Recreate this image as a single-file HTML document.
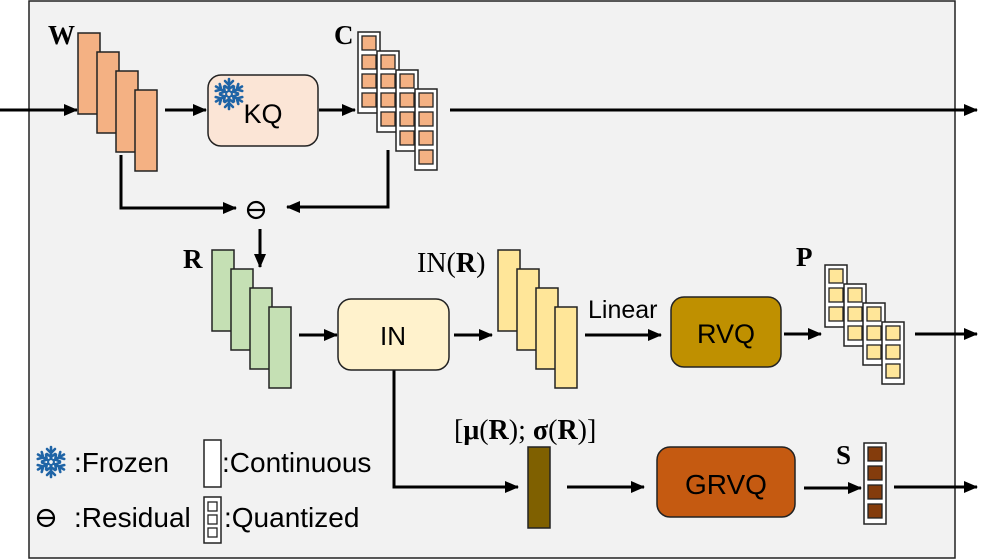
<!DOCTYPE html>
<html><head><meta charset="utf-8"><style>
html,body{margin:0;padding:0;background:#fff;}
svg{display:block;}
text{font-family:"Liberation Sans",sans-serif;}
.s{font-family:"Liberation Serif",serif;}
</style></head><body>
<svg width="987" height="560" viewBox="0 0 987 560" xmlns="http://www.w3.org/2000/svg">
<defs>
<marker id="a" markerWidth="14" markerHeight="12" refX="13" refY="6" orient="auto" markerUnits="userSpaceOnUse">
<path d="M0,0 L14,6 L0,12 Z" fill="#000"/>
</marker>
<g id="flake" stroke="#1f64a6" stroke-width="2.6" fill="none" stroke-linecap="round">
<g id="arm"><line x1="0" y1="-3" x2="0" y2="-15"/><polyline points="-4,-13 0,-9 4,-13"/><polyline points="-4,-8 0,-5 4,-8"/></g>
<use href="#arm" transform="rotate(60)"/><use href="#arm" transform="rotate(120)"/>
<use href="#arm" transform="rotate(180)"/><use href="#arm" transform="rotate(240)"/><use href="#arm" transform="rotate(300)"/>
<circle r="3" stroke-width="1.8"/>
</g>
</defs>
<rect x="29" y="1" width="926" height="557" fill="#f2f2f2" stroke="#222" stroke-width="1.5"/>
<g stroke="#000" stroke-width="3" fill="none" marker-end="url(#a)">
<line x1="0" y1="110" x2="77" y2="110"/>
<line x1="165" y1="110" x2="206" y2="110"/>
<line x1="319" y1="110" x2="355" y2="110"/>
<line x1="450" y1="110" x2="977" y2="110"/>
<polyline points="121,155 121,208 236,208"/>
<polyline points="388,150 388,207 287,207"/>
<line x1="260" y1="229" x2="260" y2="267"/>
<line x1="299" y1="335" x2="337" y2="335"/>
<line x1="454" y1="335" x2="492" y2="335"/>
<line x1="585" y1="335" x2="661" y2="335"/>
<line x1="784" y1="334" x2="821" y2="334"/>
<line x1="915" y1="334" x2="977" y2="334"/>
<polyline points="394,370 394,487 518,487"/>
<line x1="567" y1="487" x2="644" y2="487"/>
<line x1="804" y1="488" x2="861" y2="488"/>
<line x1="894" y1="487" x2="977" y2="487"/>
</g>
<g stroke="#222" stroke-width="1.5" fill="#f4b183">
<rect x="78" y="33" width="22" height="81"/><rect x="97" y="52" width="22" height="81"/>
<rect x="116" y="71" width="22" height="81"/><rect x="135" y="90" width="22" height="81"/>
</g>
<g stroke="#222" stroke-width="1.5" fill="#c5e0b4">
<rect x="212" y="250" width="22" height="81"/><rect x="231" y="269" width="22" height="81"/>
<rect x="250" y="288" width="22" height="81"/><rect x="269" y="307" width="22" height="81"/>
</g>
<g stroke="#222" stroke-width="1.5" fill="#ffe699">
<rect x="498" y="250" width="22" height="81"/><rect x="517" y="269" width="22" height="81"/>
<rect x="536" y="288" width="22" height="81"/><rect x="555" y="307" width="22" height="81"/>
</g>
<rect x="208" y="75" width="110" height="71" rx="13" fill="#fbe5d6" stroke="#222" stroke-width="1.5"/>
<text x="263" y="123" font-size="27" text-anchor="middle">KQ</text>
<use href="#flake" transform="translate(229,94)"/>
<rect x="338" y="299" width="111" height="71" rx="13" fill="#fff2cc" stroke="#222" stroke-width="1.5"/>
<text x="393" y="345" font-size="26" text-anchor="middle">IN</text>
<rect x="671" y="297" width="110" height="70" rx="13" fill="#bf9000" stroke="#222" stroke-width="1.5"/>
<text x="726" y="343" font-size="27" text-anchor="middle">RVQ</text>
<rect x="657" y="447" width="138" height="70" rx="13" fill="#c55a11" stroke="#222" stroke-width="1.5"/>
<text x="726" y="494" font-size="28" text-anchor="middle">GRVQ</text>
<rect x="528" y="447" width="22" height="81" fill="#7f6000" stroke="#222" stroke-width="1.5"/>
<circle cx="256" cy="210" r="8" fill="none" stroke="#000" stroke-width="2.2"/>
<line x1="248" y1="210" x2="264" y2="210" stroke="#000" stroke-width="2.2"/>
<g stroke="#222" stroke-width="1.5">
<g fill="#fff">
<rect x="358" y="32" width="22" height="81"/><rect x="377" y="51" width="22" height="81"/>
<rect x="396" y="70" width="22" height="81"/><rect x="415" y="89" width="22" height="81"/>
</g>
<g fill="#f4b183" stroke-width="1.3">
<rect x="362" y="36" width="14" height="14"/><rect x="362" y="55" width="14" height="14"/><rect x="362" y="74" width="14" height="14"/><rect x="362" y="93" width="14" height="14"/>
<rect x="381" y="55" width="14" height="14"/><rect x="381" y="74" width="14" height="14"/><rect x="381" y="93" width="14" height="14"/><rect x="381" y="112" width="14" height="14"/>
<rect x="400" y="74" width="14" height="14"/><rect x="400" y="93" width="14" height="14"/><rect x="400" y="112" width="14" height="14"/><rect x="400" y="131" width="14" height="14"/>
<rect x="419" y="93" width="14" height="14"/><rect x="419" y="112" width="14" height="14"/><rect x="419" y="131" width="14" height="14"/><rect x="419" y="150" width="14" height="14"/>
</g>
<g fill="#fff">
<rect x="825" y="265" width="22" height="62"/><rect x="844" y="284" width="22" height="62"/>
<rect x="863" y="303" width="22" height="62"/><rect x="882" y="322" width="22" height="62"/>
</g>
<g fill="#ffe699" stroke-width="1.3">
<rect x="829" y="269" width="14" height="14"/><rect x="829" y="288" width="14" height="14"/><rect x="829" y="307" width="14" height="14"/>
<rect x="848" y="288" width="14" height="14"/><rect x="848" y="307" width="14" height="14"/><rect x="848" y="326" width="14" height="14"/>
<rect x="867" y="307" width="14" height="14"/><rect x="867" y="326" width="14" height="14"/><rect x="867" y="345" width="14" height="14"/>
<rect x="886" y="326" width="14" height="14"/><rect x="886" y="345" width="14" height="14"/><rect x="886" y="364" width="14" height="14"/>
</g>
<rect x="864" y="443" width="22" height="81" fill="#fff"/>
<g fill="#843c0c" stroke-width="1.3">
<rect x="868" y="447" width="14" height="14"/><rect x="868" y="466" width="14" height="14"/><rect x="868" y="485" width="14" height="14"/><rect x="868" y="504" width="14" height="14"/>
</g>
<rect x="204" y="440" width="17" height="47" fill="#fff"/>
<rect x="204" y="497" width="17" height="46" fill="#fff"/>
<g fill="#fff" stroke-width="1.3">
<rect x="208" y="502" width="9" height="9"/><rect x="208" y="515" width="9" height="9"/><rect x="208" y="528" width="9" height="9"/>
</g>
</g>
<g font-weight="bold" font-size="27">
<text class="s" x="48" y="44">W</text>
<text class="s" x="334" y="44">C</text>
<text class="s" x="183" y="268">R</text>
<text class="s" x="796" y="266">P</text>
<text class="s" x="836" y="464">S</text>
</g>
<text class="s" x="417" y="272" font-size="28">IN(<tspan font-weight="bold">R</tspan>)</text>
<text class="s" x="454" y="439" font-size="28">[<tspan font-weight="bold">μ</tspan>(<tspan font-weight="bold">R</tspan>); <tspan font-weight="bold">σ</tspan>(<tspan font-weight="bold">R</tspan>)]</text>
<text x="588" y="318" font-size="25">Linear</text>
<use href="#flake" transform="translate(51,462)"/>
<text x="74" y="472" font-size="28">:Frozen</text>
<text x="222" y="472" font-size="28">:Continuous</text>
<circle cx="46" cy="518" r="8" fill="none" stroke="#000" stroke-width="2.2"/>
<line x1="38" y1="518" x2="54" y2="518" stroke="#000" stroke-width="2.2"/>
<text x="74" y="527" font-size="28">:Residual</text>
<text x="224" y="527" font-size="28">:Quantized</text>
</svg>
</body></html>
